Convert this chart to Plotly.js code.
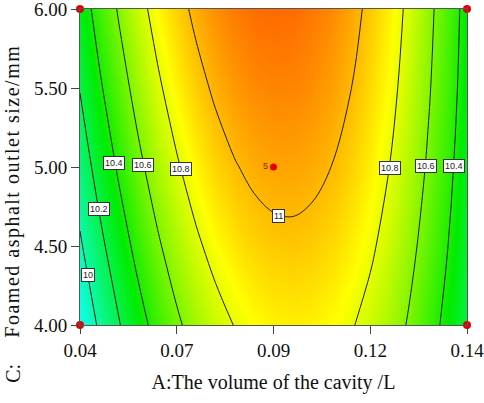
<!DOCTYPE html>
<html>
<head>
<meta charset="utf-8">
<script src="https://cdn.plot.ly/plotly-3.0.1.min.js"></script>
<style>
  html, body { margin: 0; padding: 0; background: #fff; }
  #chart { width: 484px; height: 403px; }
</style>
</head>
<body>
<div id="chart"></div>
<script>
// A: volume of the cavity (L)
const xGrid = [0.040,0.045,0.050,0.055,0.060,0.065,0.070,0.075,0.080,0.085,0.090,0.095,0.100,0.105,0.110,0.115,0.120,0.125,0.130,0.135,0.140];
// C: foamed asphalt outlet size (mm)
const yGrid = [4.0, 4.5, 5.0, 5.5, 6.0];
// response values, one row per C level (estimated from the contours)
const zC400 = [9.845,10.025,10.187,10.333,10.461,10.573,10.667,10.745,10.805,10.849,10.875,10.885,10.877,10.853,10.812,10.753,10.678,10.585,10.476,10.349,10.206];
const zC450 = [9.977,10.152,10.311,10.452,10.577,10.684,10.775,10.848,10.904,10.944,10.966,10.972,10.960,10.932,10.886,10.824,10.744,10.647,10.534,10.403,10.256];
const zC500 = [10.098,10.269,10.423,10.561,10.681,10.784,10.871,10.940,10.992,11.028,11.046,11.047,11.032,10.999,10.950,10.883,10.799,10.699,10.581,10.446,10.295];
const zC550 = [10.207,10.375,10.525,10.658,10.774,10.874,10.956,11.021,11.070,11.101,11.115,11.112,11.093,11.056,11.002,10.931,10.844,10.739,10.617,10.479,10.323];
const zC600 = [10.306,10.469,10.615,10.745,10.857,10.952,11.030,11.091,11.136,11.163,11.173,11.166,11.142,11.102,11.044,10.969,10.877,10.768,10.643,10.500,10.340];

const xTickVals = [0.04, 0.065, 0.09, 0.115, 0.14];
const xTickText = ['0.04', '0.07', '0.09', '0.12', '0.14'];
const yTickVals = [4.0, 4.5, 5.0, 5.5, 6.0];
const yTickText = ['4.00', '4.50', '5.00', '5.50', '6.00'];

// design points
const designX = [0.04, 0.04, 0.14, 0.14];
const designY = [4.0, 6.0, 4.0, 6.0];
const centerX = [0.09];
const centerY = [5.0];
const centerLabel = ['5'];

// contour level labels and where they sit
const levelLabels = ['10', '10.2', '10.4', '10.6', '10.8', '11', '10.8', '10.6', '10.4'];
const labelX = [0.0421, 0.0449, 0.0488, 0.0562, 0.0660, 0.0914, 0.1200, 0.1294, 0.1366];
const labelY = [4.316, 4.737, 5.025, 5.013, 4.987, 4.690, 4.991, 5.009, 5.009];

const xTitle = 'A:The volume of the cavity /L';
const yTitlePrefix = 'C:';
const yTitle = 'Foamed asphalt outlet size/mm';

const serif = 'Liberation Serif, Times New Roman, serif';

const contour = {
  type: 'contour',
  x: xGrid,
  y: yGrid,
  z: [zC400, zC450, zC500, zC550, zC600],
  zmin: 9.85,
  zmax: 11.4,
  colorscale: [
    [0, '#10FFF0'],
    [0.3226, '#00EC00'],
    [0.6452, '#FFFF00'],
    [1, '#FF0000']
  ],
  showscale: false,
  contours: { coloring: 'heatmap', start: 10, end: 11, size: 0.2, showlabels: false },
  line: { color: '#1e1e1e', width: 1, smoothing: 1 },
  hoverinfo: 'skip'
};

const corners = {
  type: 'scatter', mode: 'markers',
  x: designX, y: designY,
  marker: { color: '#E60000', size: 8 },
  cliponaxis: false, hoverinfo: 'skip'
};

const center = {
  type: 'scatter', mode: 'markers+text',
  x: centerX, y: centerY, text: centerLabel,
  textposition: 'middle left',
  textfont: { family: 'Liberation Sans, Arial, sans-serif', size: 9, color: '#8a2000' },
  marker: { color: '#E60000', size: 7 },
  cliponaxis: false, hoverinfo: 'skip'
};

const annotations = levelLabels.map((t, i) => ({
  x: labelX[i], y: labelY[i], xref: 'x', yref: 'y',
  text: t, showarrow: false,
  font: { family: 'Liberation Sans, Arial, sans-serif', size: 9, color: '#222' },
  bgcolor: '#ffffff', bordercolor: '#333333', borderwidth: 1, borderpad: 1
}));
annotations.push({
  x: -0.175, y: -0.1535, xref: 'paper', yref: 'paper',
  text: yTitlePrefix, showarrow: false, textangle: -90,
  xanchor: 'center', yanchor: 'middle',
  font: { family: serif, size: 20, color: '#111' }
});
annotations.push({
  x: -0.176, y: 0.424, xref: 'paper', yref: 'paper',
  text: yTitle, showarrow: false, textangle: -90,
  xanchor: 'center', yanchor: 'middle',
  font: { family: serif, size: 20, color: '#111' }
});

const layout = {
  width: 484, height: 403,
  margin: { l: 80, r: 17, t: 9, b: 78, pad: 0 },
  paper_bgcolor: '#ffffff', plot_bgcolor: '#ffffff',
  showlegend: false,
  xaxis: {
    range: [0.04, 0.14],
    tickvals: xTickVals, ticktext: xTickText,
    ticks: 'outside', ticklen: 8, tickcolor: '#444', tickwidth: 1,
    ticklabeloverflow: 'allow',
    showline: true, linecolor: '#555', linewidth: 1, mirror: true,
    showgrid: false, zeroline: false,
    tickfont: { family: serif, size: 19, color: '#111' },
    title: { text: xTitle, font: { family: serif, size: 20, color: '#111' }, standoff: 15 },
    automargin: false
  },
  yaxis: {
    range: [4, 6],
    tickvals: yTickVals, ticktext: yTickText,
    ticks: 'outside', ticklen: 8, tickcolor: '#444', tickwidth: 1,
    ticklabeloverflow: 'allow',
    showline: true, linecolor: '#555', linewidth: 1, mirror: true,
    showgrid: false, zeroline: false,
    tickfont: { family: serif, size: 19, color: '#111' },
    automargin: false
  },
  annotations: annotations
};

Plotly.newPlot('chart', [contour, corners, center], layout, { displayModeBar: false, staticPlot: true }).then(() => {
  document.querySelectorAll('#chart .annotation-text').forEach(el => {
    if (el.textContent === yTitle) el.style.letterSpacing = '1.5px';
  });
});
</script>
</body>
</html>
